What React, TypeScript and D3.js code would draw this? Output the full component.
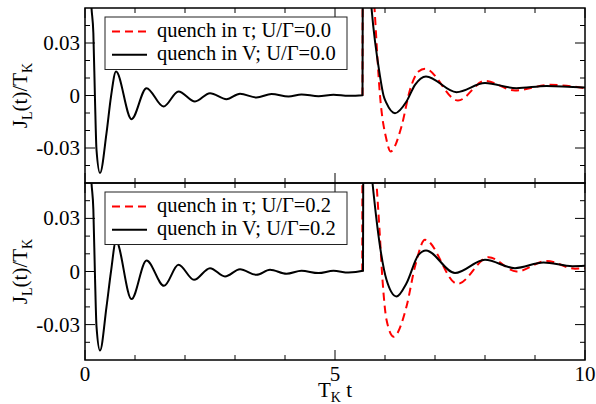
import React from "react";
import * as d3 from "d3";

// ---------- data ----------
const xMajorTicks = [0, 5, 10];
const xMajorLabels = ["0", "5", "10"];
const xMinorTicks = [1, 2, 3, 4, 6, 7, 8, 9];
const yMajorTicks = [-0.03, 0, 0.03];
const yMajorLabels = ["-0.03", "0", "0.03"];
const yMinorTicks = [-0.04, -0.02, -0.01, 0.01, 0.02, 0.04];

const legendTop = ["quench in τ; U/Γ=0.0", "quench in V; U/Γ=0.0"];
const legendBottom = ["quench in τ; U/Γ=0.2", "quench in V; U/Γ=0.2"];

// top panel, quench in V (U/Γ=0.0)
const topVT = [0, 0.13, 0.167, 0.2, 0.23, 0.3, 0.43, 0.52, 0.62, 0.93, 1.23, 1.57, 1.87, 2.2, 2.5, 2.83, 3.1, 3.43, 3.73, 4.07, 4.33, 4.67, 4.97, 5.27, 5.55,
  5.556, 5.64, 5.73, 5.9, 5.97, 6.03, 6.2, 6.43, 6.6, 6.82, 7.43, 8.0, 8.63, 9.23, 10];
const topVJ = [0.15, 0.05, 0.0357, -0.0025, -0.031, -0.0443, -0.0215, -0.0006, 0.0137, -0.0135, 0.0042, -0.0063, 0.0023, -0.0034, 0.0013, -0.0021, 0.001, -0.0011, 0.0008, -0.0006, 0.0006, -0.0004, 0.0004, -0.0002, 0.0002,
  0.07, 0.085, 0.05, 0.011, 0.0, -0.0044, -0.0101, -0.0034, 0.0061, 0.0109, 0.0019, 0.0071, 0.0042, 0.0055, 0.0046];

// top panel, quench in τ (U/Γ=0.0)
const topTauT = [5.55, 5.555, 5.68, 5.79, 5.9, 6.03, 6.11, 6.33, 6.5, 6.67, 6.8, 7.46, 8.0, 8.6, 9.3, 10];
const topTauJ = [0.0, 0.08, 0.1, 0.05, 0.0, -0.0253, -0.032, -0.0177, 0.0033, 0.0137, 0.0153, -0.0029, 0.0084, 0.0029, 0.0061, 0.0042];

// bottom panel, quench in V (U/Γ=0.2)
const botVT = [0, 0.13, 0.167, 0.2, 0.23, 0.3, 0.43, 0.52, 0.62, 0.93, 1.23, 1.58, 1.87, 2.18, 2.5, 2.8, 3.1, 3.43, 3.7, 4.03, 4.33, 4.67, 4.97, 5.27, 5.56,
  5.566, 5.65, 5.75, 5.9, 6.03, 6.23, 6.43, 6.67, 6.82, 7.4, 8.0, 8.6, 9.17, 9.75, 10];
const botVJ = [0.15, 0.05, 0.035, -0.003, -0.031, -0.0447, -0.02, 0.0, 0.0172, -0.0156, 0.0062, -0.0081, 0.0038, -0.0047, 0.0019, -0.0028, 0.0013, -0.0019, 0.001, -0.0013, 0.0004, -0.0009, 0.0004, -0.0006, 0.0004,
  0.07, 0.08, 0.05, 0.0142, -0.0047, -0.0141, -0.0066, 0.0094, 0.0119, -0.0009, 0.0066, 0.0019, 0.0051, 0.003, 0.0032];

// bottom panel, quench in τ (U/Γ=0.2)
const botTauT = [5.545, 5.55, 5.7, 5.83, 5.89, 5.95, 6.03, 6.17, 6.43, 6.6, 6.8, 7.45, 8.07, 8.63, 9.23, 9.8, 10];
const botTauJ = [0.0, 0.08, 0.1, 0.05, 0.0236, -0.0047, -0.0273, -0.0368, -0.0198, 0.0028, 0.0179, -0.007, 0.0081, 0.0, 0.006, 0.0016, 0.0019];

// ---------- layout ----------
const FONT = "'Liberation Serif', 'Times New Roman', Times, serif";
const X0 = 85, X1 = 585;
const PANEL_TOP = [8, 183];
const PANEL_BOT = [183, 360];
const TICK_FS = 21;
const LEG_FS = 20.5;
const LAB_FS = 21;
const SUB_FS = 14;

const x = d3.scaleLinear().domain([0, 10]).range([X0, X1]);

type PanelProps = {
  idx: number;
  vT: number[]; vJ: number[];
  tauT: number[]; tauJ: number[];
  legend: string[];
};

function Panel({ idx, vT, vJ, tauT, tauJ, legend }: PanelProps) {
  const top = PANEL_TOP[idx], bot = PANEL_BOT[idx];
  const y = d3.scaleLinear().domain([-0.05, 0.05]).range([bot, top]);
  const line = d3.line<[number, number]>()
    .x((d) => x(d[0]))
    .y((d) => y(d[1]))
    .curve(d3.curveMonotoneX);
  const vPath = line(vT.map((t, i) => [t, vJ[i]] as [number, number])) || "";
  const tauPath = line(tauT.map((t, i) => [t, tauJ[i]] as [number, number])) || "";
  const clipId = `clip${idx}`;
  const lx = 105, lw = 242, ly = top + 9, lh = 52.5;
  const rows = [ly + 14.5, ly + 37.7];
  const majLen = 10, minLen = 5;
  const ymid = (top + bot) / 2;
  return (
    <g>
      <defs>
        <clipPath id={clipId}>
          <rect x={X0} y={top} width={X1 - X0} height={bot - top} />
        </clipPath>
      </defs>
      <g clipPath={`url(#${clipId})`}>
        <path d={tauPath} fill="none" stroke="#ff0000" strokeWidth={2} strokeDasharray="8,5" />
        <path d={vPath} fill="none" stroke="#000" strokeWidth={2} />
      </g>
      {xMajorTicks.map((t) => (
        <g key={"xM" + t}>
          <line x1={x(t)} x2={x(t)} y1={top} y2={top + majLen} stroke="#000" strokeWidth={1} />
          <line x1={x(t)} x2={x(t)} y1={bot} y2={bot - majLen} stroke="#000" strokeWidth={1} />
        </g>
      ))}
      {xMinorTicks.map((t) => (
        <g key={"xm" + t}>
          <line x1={x(t)} x2={x(t)} y1={top} y2={top + minLen} stroke="#000" strokeWidth={1} />
          <line x1={x(t)} x2={x(t)} y1={bot} y2={bot - minLen} stroke="#000" strokeWidth={1} />
        </g>
      ))}
      {yMajorTicks.map((v) => (
        <g key={"yM" + v}>
          <line x1={X0} x2={X0 + majLen} y1={y(v)} y2={y(v)} stroke="#000" strokeWidth={1} />
          <line x1={X1} x2={X1 - majLen} y1={y(v)} y2={y(v)} stroke="#000" strokeWidth={1} />
        </g>
      ))}
      {yMinorTicks.map((v) => (
        <g key={"ym" + v}>
          <line x1={X0} x2={X0 + minLen} y1={y(v)} y2={y(v)} stroke="#000" strokeWidth={1} />
          <line x1={X1} x2={X1 - minLen} y1={y(v)} y2={y(v)} stroke="#000" strokeWidth={1} />
        </g>
      ))}
      {yMajorTicks.map((v, i) => (
        <text key={"yl" + v} x={80} y={y(v) + 7} textAnchor="end" fontFamily={FONT} fontSize={TICK_FS}>
          {yMajorLabels[i]}
        </text>
      ))}
      <rect x={X0} y={top} width={X1 - X0} height={bot - top} fill="none" stroke="#000" strokeWidth={1.5} />
      <text transform={`translate(${27},${ymid}) rotate(-90)`} textAnchor="middle" fontFamily={FONT} fontSize={LAB_FS}>
        J<tspan fontSize={SUB_FS} dy={5}>L</tspan><tspan dy={-5}>(t)/T</tspan><tspan fontSize={SUB_FS} dy={5}>K</tspan>
      </text>
      <rect x={lx} y={ly} width={lw} height={lh} fill="#fff" stroke="#222" strokeWidth={1} />
      <line x1={112} x2={147} y1={rows[0]} y2={rows[0]} stroke="#ff0000" strokeWidth={2} strokeDasharray="8,5" />
      <line x1={112} x2={147} y1={rows[1]} y2={rows[1]} stroke="#000" strokeWidth={2} />
      <text x={157} y={rows[0] + 5.5} fontFamily={FONT} fontSize={LEG_FS}>{legend[0]}</text>
      <text x={157} y={rows[1] + 5.5} fontFamily={FONT} fontSize={LEG_FS}>{legend[1]}</text>
    </g>
  );
}

export default function App() {
  return (
    <svg width={596} height={404} style={{ position: "absolute", left: 0, top: 0, background: "#fff" }}>
      <rect x={0} y={0} width={596} height={404} fill="#fff" />
      <Panel idx={0} vT={topVT} vJ={topVJ} tauT={topTauT} tauJ={topTauJ} legend={legendTop} />
      <Panel idx={1} vT={botVT} vJ={botVJ} tauT={botTauT} tauJ={botTauJ} legend={legendBottom} />
      {xMajorTicks.map((t, i) => (
        <text key={"xl" + t} x={x(t)} y={381} textAnchor="middle" fontFamily={FONT} fontSize={TICK_FS}>
          {xMajorLabels[i]}
        </text>
      ))}
      <text x={335} y={397} textAnchor="middle" fontFamily={FONT} fontSize={LAB_FS}>
        T<tspan fontSize={SUB_FS} dy={5}>K</tspan><tspan dy={-5}> t</tspan>
      </text>
    </svg>
  );
}
